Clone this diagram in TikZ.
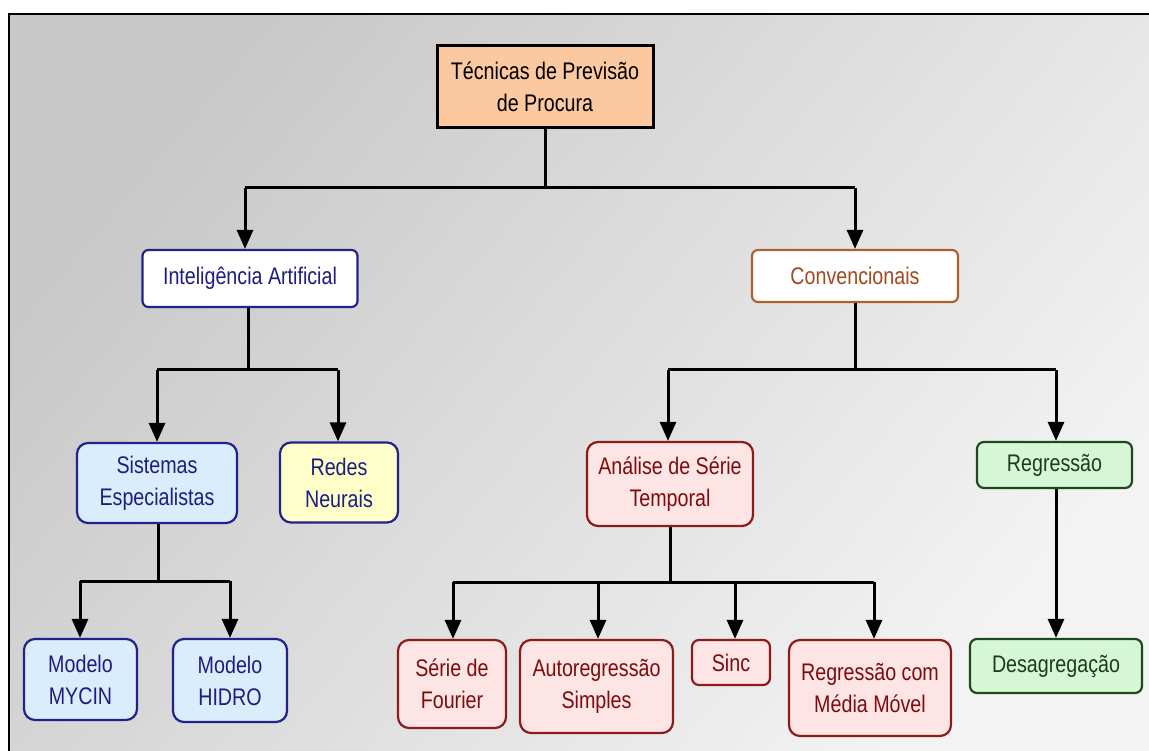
\documentclass[tikz,border=0pt]{standalone}
\usepackage{fontspec}
\setmainfont[FakeStretch=0.82]{Liberation Sans}
\usetikzlibrary{arrows.meta}
\definecolor{navytxt}{HTML}{1E1E80}
\definecolor{navyline}{HTML}{22228A}
\definecolor{bluefill}{HTML}{D9EDFD}
\definecolor{yellfill}{HTML}{FEFEC9}
\definecolor{peach}{HTML}{FBC8A0}
\definecolor{browntxt}{HTML}{A4481E}
\definecolor{brownline}{HTML}{B0602C}
\definecolor{redtxt}{HTML}{7E0C0C}
\definecolor{redline}{HTML}{8C1C1C}
\definecolor{pinkfill}{HTML}{FDE5E5}
\definecolor{greentxt}{HTML}{1C3C1C}
\definecolor{greenline}{HTML}{1E481E}
\definecolor{greenfill}{HTML}{D6F7D6}
\definecolor{bgdark}{HTML}{C8C8C8}
\definecolor{bglight}{HTML}{F3F3F3}
\begin{document}
\begin{tikzpicture}[x=1pt,y=-1pt,
  box/.style={draw, line width=2.2pt, rounded corners=8pt, align=center,
    font=\fontsize{24}{32}\selectfont, inner sep=0pt},
  bluebox/.style={box, draw=navyline, fill=bluefill, text=navytxt},
  redbox/.style={box, draw=redline, fill=pinkfill, text=redtxt},
  greenbox/.style={box, draw=greenline, fill=greenfill, text=greentxt},
  conn/.style={line width=3pt, draw=black},
  arr/.style={conn, -{Triangle[length=19pt,width=16pt]}}]
\useasboundingbox (0,0) rectangle (1149,751);
\fill[white] (0,0) rectangle (1149,751);
\shade[top color=bgdark, bottom color=bglight, shading angle=50] (9,14) rectangle (1149,751);
\draw[line width=2pt] (9,751) -- (9,14) -- (1149,14);

% nodes
\node[box, draw=black, line width=3pt, rounded corners=0pt, fill=peach, text=black,
  minimum width=216pt, minimum height=82pt] (top) at (545,87) {Técnicas de Previsão\\de Procura};
\node[box, draw=navyline, fill=white, text=navytxt, rounded corners=6pt,
  minimum width=215pt, minimum height=57pt] (ai) at (250,278.5) {Inteligência Artificial};
\node[box, draw=brownline, fill=white, text=browntxt, rounded corners=6pt,
  minimum width=206pt, minimum height=52pt] (conv) at (855,276) {Convencionais};
\node[bluebox, minimum width=160pt, minimum height=80pt, rounded corners=11pt] (sis) at (157,483) {Sistemas\\Especialistas};
\node[box, draw=navyline, fill=yellfill, text=navytxt, rounded corners=11pt,
  minimum width=118pt, minimum height=80pt] (redes) at (339,482.5) {Redes\\Neurais};
\node[redbox, minimum width=166pt, minimum height=84pt, rounded corners=11pt] (ana) at (670,484) {Análise de Série\\Temporal};
\node[greenbox, minimum width=155pt, minimum height=46pt, rounded corners=7pt] (reg) at (1054.5,465) {Regressão};
\node[bluebox, minimum width=113pt, minimum height=81pt, rounded corners=11pt] (mycin) at (80.5,679.5) {Modelo\\MYCIN};
\node[bluebox, minimum width=114pt, minimum height=83pt, rounded corners=11pt] (hidro) at (230,680.5) {Modelo\\HIDRO};
\node[redbox, minimum width=108pt, minimum height=88pt, rounded corners=11pt] (fourier) at (452,684) {Série de\\Fourier};
\node[redbox, minimum width=153pt, minimum height=93pt, rounded corners=11pt] (autoreg) at (596.5,686.5) {Autoregressão\\Simples};
\node[redbox, minimum width=78pt, minimum height=45pt, rounded corners=7pt] (sinc) at (731,662.5) {Sinc};
\node[redbox, minimum width=162pt, minimum height=96pt, rounded corners=11pt] (regmm) at (870,688) {Regressão com\\Média Móvel};
\node[greenbox, minimum width=172pt, minimum height=54pt, rounded corners=7pt] (desag) at (1056,666) {Desagregação};

% bus coordinates
\coordinate (b0) at (545,188);
\coordinate (b0l) at (245,188);
\coordinate (b0r) at (855,188);
\coordinate (b1) at (248,370);
\coordinate (b1l) at (157,370);
\coordinate (b1r) at (338,370);
\coordinate (b2) at (855,370);
\coordinate (b2l) at (668,370);
\coordinate (b2r) at (1056,370);
\coordinate (b3) at (158,581);
\coordinate (b3l) at (80,581);
\coordinate (b3r) at (230,581);
\coordinate (b4) at (670,582);
\coordinate (b4a) at (453,582);
\coordinate (b4b) at (598,582);
\coordinate (b4c) at (735,582);
\coordinate (b4d) at (874,582);

% connectors
\draw[conn] (top.south) -- (b0);
\draw[conn] (b0l) -- (b0r);
\draw[arr] (b0l) -- (b0l |- ai.north);
\draw[arr] (b0r) -- (b0r |- conv.north);

\draw[conn] (b1 |- ai.south) -- (b1);
\draw[conn] (b1l) -- (b1r);
\draw[arr] (b1l) -- (b1l |- sis.north);
\draw[arr] (b1r) -- (b1r |- redes.north);

\draw[conn] (conv.south) -- (b2);
\draw[conn] (b2l) -- (b2r);
\draw[arr] (b2l) -- (b2l |- ana.north);
\draw[arr] (b2r) -- (b2r |- reg.north);

\draw[conn] (b3 |- sis.south) -- (b3);
\draw[conn] (b3l) -- (b3r);
\draw[arr] (b3l) -- (b3l |- mycin.north);
\draw[arr] (b3r) -- (b3r |- hidro.north);

\draw[conn] (b4 |- ana.south) -- (b4);
\draw[conn] (b4a) -- (b4d);
\draw[arr] (b4a) -- (b4a |- fourier.north);
\draw[arr] (b4b) -- (b4b |- autoreg.north);
\draw[arr] (b4c) -- (b4c |- sinc.north);
\draw[arr] (b4d) -- (b4d |- regmm.north);

\draw[arr] (b2r |- reg.south) -- (b2r |- desag.north);
\end{tikzpicture}
\end{document}
